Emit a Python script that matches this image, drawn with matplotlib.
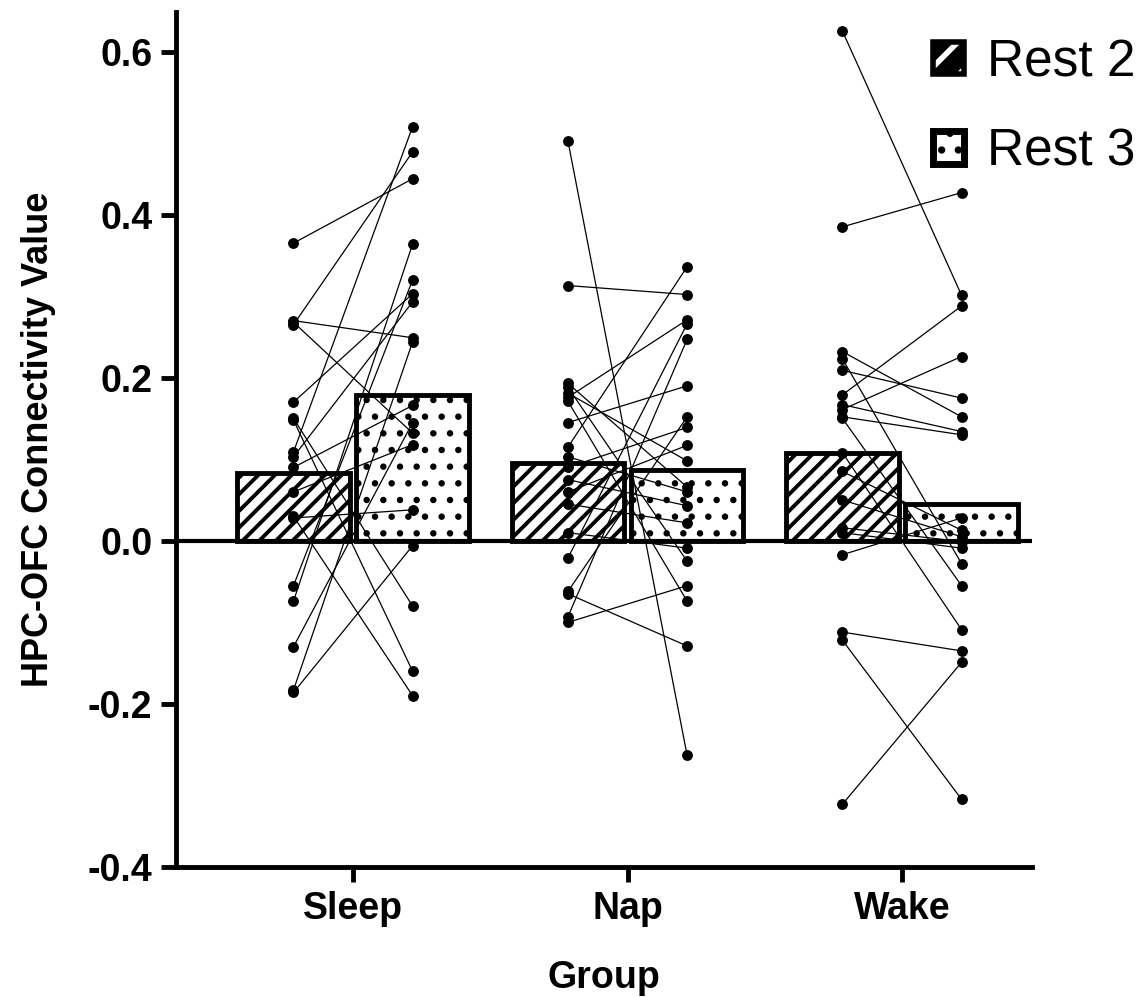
import matplotlib
matplotlib.use("Agg")
import matplotlib.pyplot as plt
from matplotlib.patches import Patch

plt.rcParams['font.family'] = ['Liberation Sans', 'DejaVu Sans']
plt.rcParams['axes.unicode_minus'] = False
plt.rcParams['hatch.linewidth'] = 2.8

# data
groups = ['Sleep', 'Nap', 'Wake']
bar_rest2 = [0.083, 0.095, 0.108]
bar_rest3 = [0.179, 0.087, 0.045]

sleep_rest2 = [0.365, 0.270, 0.268, 0.265, 0.170, 0.150, 0.148, 0.109, 0.103,
               0.090, 0.060, 0.030, 0.028, -0.055, -0.074, -0.130, -0.183, -0.186]
sleep_rest3 = [0.444, 0.249, 0.132, 0.477, 0.303, -0.080, -0.160, 0.508, 0.293,
               0.166, 0.118, -0.190, 0.038, 0.320, 0.364, 0.145, 0.244, -0.006]

nap_rest2 = [0.490, 0.313, 0.193, 0.188, 0.181, 0.176, 0.171, 0.145, 0.115, 0.103,
             0.090, 0.075, 0.060, 0.045, 0.010, -0.021, -0.062, -0.065, -0.093, -0.100]
nap_rest3 = [-0.263, 0.302, 0.066, -0.025, 0.098, 0.271, -0.074, 0.190, 0.336, 0.060,
             0.139, 0.043, 0.117, 0.022, -0.009, 0.266, 0.152, -0.129, 0.247, -0.055]

wake_rest2 = [0.625, 0.385, 0.232, 0.223, 0.209, 0.179, 0.167, 0.161, 0.152, 0.150,
              0.108, 0.085, 0.050, 0.016, 0.010, -0.017, -0.112, -0.122, -0.323]
wake_rest3 = [0.301, 0.427, 0.152, -0.028, 0.175, 0.288, 0.134, 0.226, 0.130, -0.055,
              -0.109, 0.013, 0.005, -0.001, -0.009, 0.028, -0.135, -0.317, -0.149]

paired = [(sleep_rest2, sleep_rest3), (nap_rest2, nap_rest3), (wake_rest2, wake_rest3)]

fig = plt.figure(figsize=(11.43, 9.97), dpi=100)
ax = fig.add_axes([0.154, 0.1304, 0.749, 0.858])

off = 0.217
w = 0.41
for i in range(len(groups)):
    ax.bar(i - off, bar_rest2[i], width=w, facecolor='white', edgecolor='black',
           linewidth=3.5, hatch='//', zorder=2)
    b3 = ax.bar(i + off, bar_rest3[i], width=w, facecolor='white', edgecolor='black',
                linewidth=3.5, hatch='.', zorder=2)
    b3[0].set_hatch_linewidth(2.2)

# 個人ごとの線
for i, (r2, r3) in enumerate(paired):
    for a, b in zip(r2, r3):
        ax.plot([i - off, i + off], [a, b], color='black', linewidth=0.9,
                marker='o', markersize=6.8, zorder=3)

ax.axhline(0, color='black', linewidth=3, zorder=4)

ax.set_xlim(-0.645, 2.474)
ax.set_ylim(-0.4, 0.649)
ax.set_yticks([-0.4, -0.2, 0.0, 0.2, 0.4, 0.6])
ax.set_yticklabels(['-0.4', '-0.2', '0.0', '0.2', '0.4', '0.6'])
ax.set_xticks(range(len(groups)))
ax.set_xticklabels(groups)

for s in ['top', 'right']:
    ax.spines[s].set_visible(False)
for s in ['left', 'bottom']:
    ax.spines[s].set_linewidth(3.5)
ax.tick_params(width=3.5, length=11, labelsize=27, pad=6)
for lab in ax.get_xticklabels() + ax.get_yticklabels():
    lab.set_fontweight('bold')

ax.set_ylabel('HPC-OFC Connectivity Value', fontsize=26, fontweight='bold', labelpad=23)
ax.set_xlabel('Group', fontsize=27, fontweight='bold', labelpad=24)

handles = [Patch(facecolor='black', edgecolor='black', linewidth=4, hatch='/', label='Rest 2'),
           Patch(facecolor='white', edgecolor='black', linewidth=5, hatch='.', label='Rest 3')]
leg = fig.legend(handles=handles, loc='upper right', bbox_to_anchor=(1.034, 1.008),
                 frameon=False, fontsize=37, handlelength=0.6, handleheight=0.6,
                 handletextpad=0.45, labelspacing=0.78)
# 凡例の斜線は白
leg.legend_handles[0].set_hatch_linewidth(4)
leg.legend_handles[0]._hatch_color = (1, 1, 1, 1)

fig.savefig('out.png', dpi=100)
